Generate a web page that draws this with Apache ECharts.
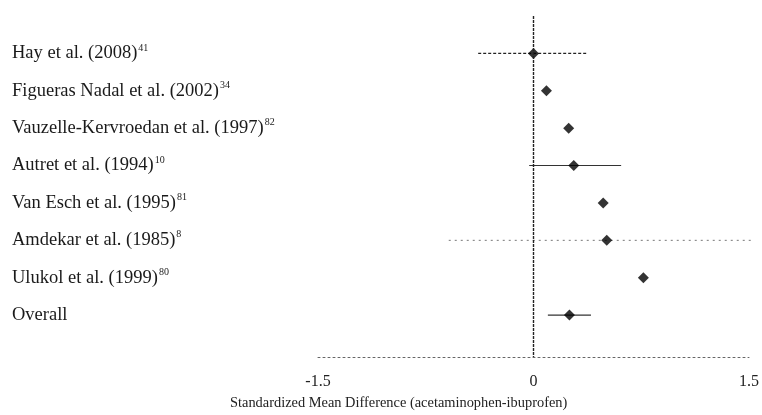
<!DOCTYPE html>
<html>
<head>
<meta charset="utf-8">
<script src="https://cdn.jsdelivr.net/npm/echarts@6/dist/echarts.min.js"></script>
<style>
html,body{margin:0;padding:0;background:#fff;}
#chart{width:762px;height:415px;}
</style>
</head>
<body>
<div id="chart"></div>
<script>
// ---- data ----
var studies = ['Hay et al. (2008)', 'Figueras Nadal et al. (2002)', 'Vauzelle-Kervroedan et al. (1997)', 'Autret et al. (1994)', 'Van Esch et al. (1995)', 'Amdekar et al. (1985)', 'Ulukol et al. (1999)', 'Overall'];
var refs = ['41', '34', '82', '10', '81', '8', '80', ''];
var smd = [0.00, 0.09, 0.245, 0.28, 0.485, 0.51, 0.765, 0.25];
var ciLow = [-0.385, null, null, -0.03, null, -0.59, null, 0.10];
var ciHigh = [0.37, null, null, 0.61, null, 1.52, null, 0.40];
var xTicks = [-1.5, 0, 1.5];
var axisTitle = 'Standardized Mean Difference (acetaminophen-ibuprofen)';

var FONT = '"Liberation Serif", "Times New Roman", serif';
var ciStyle = {
  'Hay et al. (2008)': {stroke: '#222', lineWidth: 1.2, lineDash: [3, 2]},
  'Amdekar et al. (1985)': {stroke: '#777', lineWidth: 1, lineDash: [2, 4]},
  'default': {stroke: '#333', lineWidth: 1.1}
};

var points = smd.map(function (v, i) { return [v, i + 1]; });
var cis = [];
studies.forEach(function (s, i) {
  if (ciLow[i] !== null) cis.push([ciLow[i], ciHigh[i], i + 1]);
});

var chart = echarts.init(document.getElementById('chart'), null, {renderer: 'canvas'});
chart.setOption({
  backgroundColor: '#fff',
  animation: false,
  grid: {left: 318, right: 8, top: 16, bottom: 58},
  xAxis: {
    type: 'value', min: -1.5, max: 1.5, interval: 1.5, position: 'bottom',
    axisLine: {show: true, onZero: false, lineStyle: {color: '#666', width: 1, type: [2, 3]}},
    axisTick: {show: false},
    splitLine: {show: false},
    axisLabel: {
      margin: 17, color: '#222', fontFamily: FONT, fontSize: 16,
      formatter: function (v) { return xTicks.indexOf(v) >= 0 ? String(v) : ''; }
    }
  },
  yAxis: {
    type: 'value', inverse: true, min: 0, max: 9.12, interval: 1,
    axisLine: {show: false}, axisTick: {show: false}, splitLine: {show: false},
    axisLabel: {
      align: 'left', margin: 306, color: '#1a1a1a',
      formatter: function (v) {
        if (Math.abs(v - Math.round(v)) > 1e-6) return '';
        var i = Math.round(v) - 1;
        if (i < 0 || i >= studies.length) return '';
        return '{n|' + studies[i] + '}' + (refs[i] ? '{s|' + refs[i] + '}' : '');
      },
      rich: {
        n: {fontFamily: FONT, fontSize: 18.5, color: '#1a1a1a'},
        s: {fontFamily: FONT, fontSize: 10, color: '#1a1a1a', padding: [0, 0, 11, 1]}
      }
    }
  },
  graphic: [{
    type: 'text', left: 230, top: 396,
    style: {text: axisTitle, fontFamily: FONT, fontSize: 14.4, fill: '#222'}
  }],
  series: [
    {
      type: 'custom',
      data: cis,
      renderItem: function (params, api) {
        var lo = api.value(0), hi = api.value(1), row = api.value(2);
        var a = api.coord([lo, row]), b = api.coord([hi, row]);
        var st = ciStyle[studies[row - 1]] || ciStyle['default'];
        return {
          type: 'line',
          shape: {x1: a[0], y1: a[1], x2: b[0], y2: b[1]},
          style: {stroke: st.stroke, lineWidth: st.lineWidth, lineDash: st.lineDash || null}
        };
      },
      z: 2
    },
    {
      type: 'scatter',
      data: points,
      symbol: 'diamond',
      symbolSize: [11, 11],
      itemStyle: {color: '#000'},
      z: 3,
      markLine: {
        silent: true, symbol: 'none',
        label: {show: false},
        lineStyle: {color: '#222', width: 1.4, type: [3, 1]},
        data: [{xAxis: 0}]
      }
    }
  ]
});
</script>
</body>
</html>
